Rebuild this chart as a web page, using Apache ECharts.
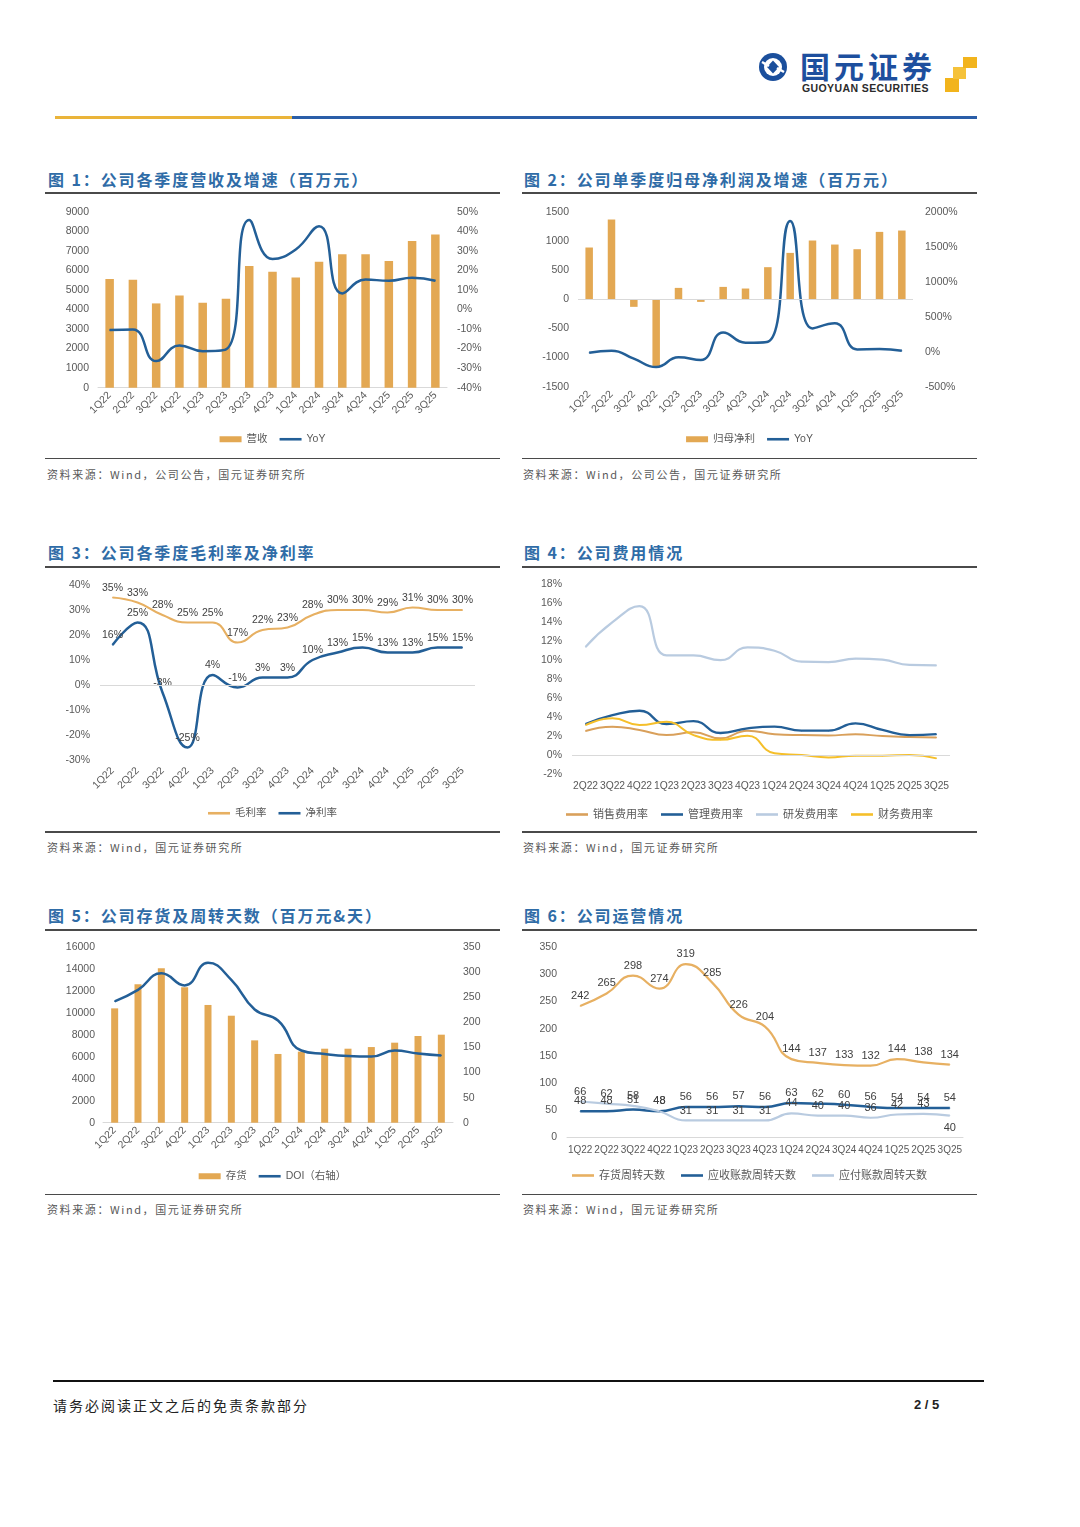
<!DOCTYPE html>
<html><head><meta charset="utf-8">
<script src="https://cdn.jsdelivr.net/npm/echarts@6/dist/echarts.min.js"></script>
<style>
body{margin:0;background:#fff;width:1080px;height:1527px;position:relative;overflow:hidden;font-family:"Liberation Sans","Noto Sans CJK SC",sans-serif;}
.title{position:absolute;font-family:"Noto Sans CJK SC",sans-serif;font-weight:bold;font-size:16px;color:#2f6ca7;letter-spacing:1.9px;white-space:nowrap;line-height:20px;}
.hline{position:absolute;height:1.6px;background:#4a4a4a;width:455px;}
.src{position:absolute;font-family:"Noto Sans CJK SC",sans-serif;font-size:11px;color:#595959;letter-spacing:1.6px;white-space:nowrap;line-height:14px;}
.chart{position:absolute;width:455px;height:260px;}
</style></head>
<body>
<!-- header -->
<svg style="position:absolute;left:759px;top:53px" width="28" height="28" viewBox="0 0 28 28">
  <circle cx="14" cy="14" r="14" fill="#1b4f9c"/>
  <circle cx="14" cy="14" r="9" fill="#fff"/>
  <polygon points="14,7.5 20,14 14,20.5 8,14" fill="#1b4f9c"/>
  <path d="M3 9 L10 13" stroke="#fff" stroke-width="2.5"/>
  <path d="M25 19 L18 15" stroke="#fff" stroke-width="2.5"/>
</svg>
<div style="position:absolute;left:800px;top:48px;font-family:'Noto Sans CJK SC';font-weight:bold;font-size:30px;line-height:34px;color:#1d4f9e;letter-spacing:4px;white-space:nowrap">国元证券</div>
<div style="position:absolute;left:802px;top:82px;font-family:'Liberation Sans';font-weight:bold;font-size:10.5px;line-height:12px;color:#2b2b2b;letter-spacing:0.4px;white-space:nowrap">GUOYUAN SECURITIES</div>
<div style="position:absolute;left:945px;top:78px;width:14px;height:14px;background:#f2b41c"></div>
<div style="position:absolute;left:953px;top:67px;width:13px;height:12px;background:#f5c23a"></div>
<div style="position:absolute;left:963px;top:57px;width:14px;height:11px;background:#f2b41c"></div>
<div style="position:absolute;left:55px;top:116px;width:237px;height:3px;background:#eab43a"></div>
<div style="position:absolute;left:292px;top:116px;width:685px;height:3px;background:#2a5ea8"></div>

<!-- panel titles and lines -->
<div class="title" style="left:48px;top:169px">图 1：公司各季度营收及增速（百万元）</div>
<div class="title" style="left:524px;top:169px">图 2：公司单季度归母净利润及增速（百万元）</div>
<div class="hline" style="left:45px;top:192px"></div>
<div class="hline" style="left:522px;top:192px"></div>
<div class="hline" style="left:45px;top:457.5px"></div>
<div class="hline" style="left:522px;top:457.5px"></div>
<div class="src" style="left:47px;top:467px">资料来源：Wind，公司公告，国元证券研究所</div>
<div class="src" style="left:523px;top:467px">资料来源：Wind，公司公告，国元证券研究所</div>

<div class="title" style="left:48px;top:542px">图 3：公司各季度毛利率及净利率</div>
<div class="title" style="left:524px;top:542px">图 4：公司费用情况</div>
<div class="hline" style="left:45px;top:566px"></div>
<div class="hline" style="left:522px;top:566px"></div>
<div class="hline" style="left:45px;top:831px"></div>
<div class="hline" style="left:522px;top:831px"></div>
<div class="src" style="left:47px;top:840px">资料来源：Wind，国元证券研究所</div>
<div class="src" style="left:523px;top:840px">资料来源：Wind，国元证券研究所</div>

<div class="title" style="left:48px;top:905px">图 5：公司存货及周转天数（百万元&amp;天）</div>
<div class="title" style="left:524px;top:905px">图 6：公司运营情况</div>
<div class="hline" style="left:45px;top:929px"></div>
<div class="hline" style="left:522px;top:929px"></div>
<div class="hline" style="left:45px;top:1193.5px"></div>
<div class="hline" style="left:522px;top:1193.5px"></div>
<div class="src" style="left:47px;top:1202px">资料来源：Wind，国元证券研究所</div>
<div class="src" style="left:523px;top:1202px">资料来源：Wind，国元证券研究所</div>

<div id="c1" class="chart" style="left:45px;top:195px"></div>
<div id="c2" class="chart" style="left:522px;top:195px"></div>
<div id="c3" class="chart" style="left:45px;top:570px"></div>
<div id="c4" class="chart" style="left:522px;top:570px"></div>
<div id="c5" class="chart" style="left:45px;top:932px"></div>
<div id="c6" class="chart" style="left:522px;top:932px"></div>

<!-- footer -->
<div style="position:absolute;left:53px;top:1380px;width:931px;height:2px;background:#111"></div>
<div style="position:absolute;left:53px;top:1396px;font-family:'Noto Sans CJK SC';font-size:14px;line-height:18px;letter-spacing:2px;color:#222;white-space:nowrap">请务必阅读正文之后的免责条款部分</div>
<div style="position:absolute;left:914px;top:1397px;font-family:'Liberation Sans';font-weight:bold;font-size:13px;line-height:16px;color:#222;white-space:nowrap">2 / 5</div>

<script>
// ---------------- data ----------------
const quarters15 = ['1Q22','2Q22','3Q22','4Q22','1Q23','2Q23','3Q23','4Q23','1Q24','2Q24','3Q24','4Q24','1Q25','2Q25','3Q25'];
const quarters14 = ['2Q22','3Q22','4Q22','1Q23','2Q23','3Q23','4Q23','1Q24','2Q24','3Q24','4Q24','1Q25','2Q25','3Q25'];

const revenue = [5560,5520,4310,4720,4350,4550,6220,5930,5640,6440,6820,6820,6480,7500,7840];
const revenueYoY = [-10.5,-10.2,-26.4,-18.4,-21.3,-20.4,45.7,25.8,30.7,42.6,8.2,15.3,14.7,16.2,14.7];

const netProfit = [886,1366,-131,-1160,194,-46,211,183,549,794,1006,937,857,1154,1177];
const netProfitYoY = [-14,14,-100,-220,-81,-119,276,129,143,1867,333,405,33,38,14];

const grossMargin = [35,33,28,25,25,17,22,23,28,30,30,29,31,30,30];
const netMargin = [16,25,-3,-25,4,-1,3,3,10,13,15,13,13,15,15];

const salesExp = [2.53,2.99,2.64,2.1,2.4,1.76,2.57,2.2,2.1,2.07,2.18,2.0,1.9,1.86];
const adminExp = [3.27,4.2,4.67,3.27,3.58,2.32,2.81,3.0,2.57,2.57,3.34,2.64,2.1,2.2];
const rdExp = [11.4,14.0,15.7,10.5,10.5,10.0,11.35,11.0,9.84,9.8,10.16,10.05,9.5,9.46];
const finExp = [3.16,3.87,3.16,3.5,2.1,1.6,2.04,0.18,0.0,-0.25,-0.07,-0.07,0.0,-0.35];

const inventory = [10430,12620,14080,12350,10740,9760,7510,6270,6480,6750,6750,6900,7300,7910,8030];
const inventoryDays = [242,265,298,274,319,285,226,204,144,137,133,132,144,138,134];
const receivableDays = [48,48,51,48,56,56,57,56,63,62,60,56,54,54,54];
const payableDays = [66,62,58,48,31,31,31,31,44,40,40,36,42,43,40];

// ---------------- styles ----------------
const GOLD = '#e3a853';
const GOLD_LINE = '#e7b062';
const BLUE = '#235f97';
const LIGHTBLUE = '#b9cbe0';
const YELLOW = '#f5bf2a';
const SALES = '#d9a05b';
const TXT = '#595959';
const FONT = '"Liberation Sans","Noto Sans CJK SC",sans-serif';
const LINE_ICON = 'path://M0,0H22V2.6H0Z';
const plain = v => String(v);
const pct = v => v + '%';

function lbl(fmt, margin){ return {fontSize:10.5,color:TXT,fontFamily:FONT,margin:margin,formatter:fmt}; }
function valAxis(o){
  return Object.assign({
    type:'value',
    axisLine:{show:false}, axisTick:{show:false}, splitLine:{show:false},
    axisLabel:lbl(plain,9)
  }, o);
}
function catAxis(data, o){
  return Object.assign({
    type:'category', data:data,
    axisTick:{show:false},
    axisLine:{lineStyle:{color:'#d9d9d9',width:1}},
    axisLabel:{interval:0,rotate:45,fontSize:10.5,color:TXT,fontFamily:FONT,margin:6}
  }, o);
}
function legend(top, items, fs, gap){
  return {top:top,left:'center',itemWidth:22,itemHeight:6,itemGap:gap||12,
    textStyle:{fontSize:fs||10.5,color:TXT,fontFamily:FONT},
    data:items.map(it => typeof it === 'string' ? {name:it,icon:LINE_ICON} : it)};
}
const zeroLine = {silent:true,symbol:'none',label:{show:false},
  lineStyle:{color:'#d9d9d9',type:'solid',width:1},data:[{yAxis:0}]};
function lineS(name,data,color,w,extra){
  return Object.assign({name:name,type:'line',data:data,smooth:0.5,symbol:'circle',symbolSize:1,showSymbol:true,
    lineStyle:{color:color,width:w||2.2},itemStyle:{color:color}}, extra||{});
}

// ---------------- chart 1 ----------------
echarts.init(document.getElementById('c1')).setOption({
  animation:false,
  grid:{left:53,top:16.7,width:349,height:176},
  legend:legend(234,[{name:'营收',icon:'rect'},'YoY']),
  xAxis:catAxis(quarters15),
  yAxis:[valAxis({min:0,max:9000,interval:1000,axisLabel:lbl(plain,9)}),
         valAxis({min:-40,max:50,interval:10,axisLabel:lbl(pct,10)})],
  series:[
    {name:'营收',type:'bar',data:revenue,barWidth:8.5,itemStyle:{color:GOLD}},
    lineS('YoY',revenueYoY,BLUE,2.5,{yAxisIndex:1})
  ]
});

// ---------------- chart 2 ----------------
echarts.init(document.getElementById('c2')).setOption({
  animation:false,
  grid:{left:56,top:16.7,width:335,height:175},
  legend:legend(234,[{name:'归母净利',icon:'rect'},'YoY']),
  xAxis:catAxis(quarters15,{axisLine:{show:false,onZero:false}}),
  yAxis:[valAxis({min:-1500,max:1500,interval:500,axisLabel:lbl(plain,9)}),
         valAxis({min:-500,max:2000,interval:500,axisLabel:lbl(pct,12)})],
  series:[
    {name:'归母净利',type:'bar',data:netProfit,barWidth:7.5,itemStyle:{color:GOLD},markLine:zeroLine},
    lineS('YoY',netProfitYoY,BLUE,2.5,{yAxisIndex:1})
  ]
});

// ---------------- chart 3 ----------------
const pctLabel = {show:true,position:'top',distance:4,formatter:'{c}%',fontSize:10.5,color:'#404040',fontFamily:FONT};
echarts.init(document.getElementById('c3')).setOption({
  animation:false,
  grid:{left:55,top:15,width:375,height:175},
  legend:legend(233,['毛利率','净利率']),
  xAxis:catAxis(quarters15,{axisLine:{show:false,onZero:false},axisLabel:{interval:0,rotate:45,fontSize:10.5,color:TXT,fontFamily:FONT,margin:9}}),
  yAxis:valAxis({min:-30,max:40,interval:10,axisLabel:lbl(pct,10)}),
  series:[
    lineS('毛利率',grossMargin,GOLD_LINE,2.2,{label:pctLabel,markLine:zeroLine}),
    lineS('净利率',netMargin,BLUE,2.5,{label:pctLabel})
  ]
});

// ---------------- chart 4 ----------------
echarts.init(document.getElementById('c4')).setOption({
  animation:false,
  grid:{left:50,top:14.3,width:378,height:189.7},
  legend:legend(234,['销售费用率','管理费用率','研发费用率','财务费用率'],11,13),
  xAxis:catAxis(quarters14,{axisLine:{show:false,onZero:false},axisLabel:{interval:0,rotate:0,fontSize:10.3,color:TXT,fontFamily:FONT,margin:7}}),
  yAxis:valAxis({min:-2,max:18,interval:2,axisLabel:lbl(pct,10)}),
  series:[
    lineS('销售费用率',salesExp,SALES,2,{markLine:zeroLine}),
    lineS('管理费用率',adminExp,BLUE,2.3),
    lineS('研发费用率',rdExp,LIGHTBLUE,2.2),
    lineS('财务费用率',finExp,YELLOW,2)
  ]
});

// ---------------- chart 5 ----------------
echarts.init(document.getElementById('c5')).setOption({
  animation:false,
  grid:{left:58,top:15.3,width:350,height:175.4},
  legend:legend(234,[{name:'存货',icon:'rect'},'DOI（右轴）']),
  xAxis:catAxis(quarters15),
  yAxis:[valAxis({min:0,max:16000,interval:2000,axisLabel:lbl(plain,8)}),
         valAxis({min:0,max:350,interval:50,axisLabel:lbl(plain,10)})],
  series:[
    {name:'存货',type:'bar',data:inventory,barWidth:7,itemStyle:{color:GOLD}},
    lineS('DOI（右轴）',inventoryDays,BLUE,2.5,{yAxisIndex:1})
  ]
});

// ---------------- chart 6 ----------------
const numLabel = {show:true,position:'top',distance:4,fontSize:11,color:'#404040',fontFamily:FONT};
const payData = payableDays.map((v,i)=> i===payableDays.length-1 ? {value:v,label:{position:'bottom',distance:6}} : v);
echarts.init(document.getElementById('c6')).setOption({
  animation:false,
  grid:{left:45,top:15.3,width:396,height:190},
  legend:legend(233,['存货周转天数','应收账款周转天数','应付账款周转天数'],11,16),
  xAxis:catAxis(quarters15,{axisLabel:{interval:0,rotate:0,fontSize:10,color:TXT,fontFamily:FONT,margin:8}}),
  yAxis:valAxis({min:0,max:350,interval:50,axisLabel:lbl(plain,10)}),
  series:[
    lineS('存货周转天数',inventoryDays,GOLD_LINE,2.2,{label:numLabel}),
    lineS('应收账款周转天数',receivableDays,BLUE,2.5,{label:numLabel}),
    lineS('应付账款周转天数',payData,LIGHTBLUE,2.2,{label:numLabel})
  ]
});
</script>
</body></html>
